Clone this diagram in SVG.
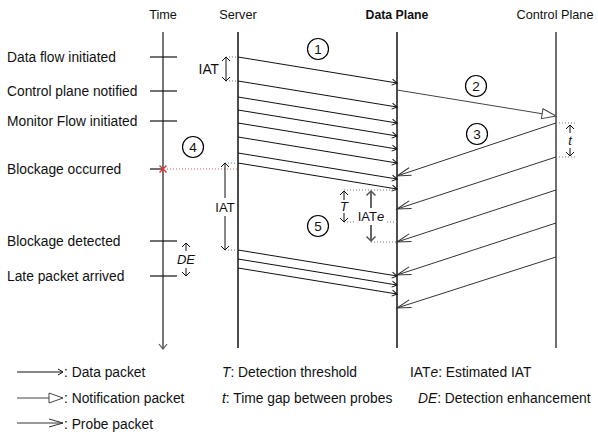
<svg xmlns="http://www.w3.org/2000/svg" width="598" height="437" viewBox="0 0 598 437">
<style>
text{font-family:"Liberation Sans",Arial,sans-serif;font-size:13.8px;fill:#111}
.h{font-size:12.7px}
.s{font-size:13px}
.n{font-size:13.5px}
.c{text-anchor:middle}
.e{text-anchor:end}
.i{font-style:italic}
.life{stroke:#000;stroke-width:1.4;fill:none}
.tick{stroke:#111;stroke-width:1.2}
.data{stroke:#111;stroke-width:1;fill:none;marker-end:url(#ad)}
.probe{stroke:#333;stroke-width:1;fill:none;marker-end:url(#ap)}
.dot{stroke:#777;stroke-width:1;stroke-dasharray:1 2;fill:none}
.circ{fill:#fff;stroke:#000;stroke-width:1.2}
.dim{stroke:#111;stroke-width:1;fill:none}
.ah{stroke:#111;stroke-width:1;fill:none}
</style>
<defs>
<marker id="ad" markerUnits="userSpaceOnUse" markerWidth="12" markerHeight="12" viewBox="-6 -6 12 12" refX="0" refY="0" orient="auto">
<path d="M-5,-3 L0,0 L-5,3" fill="none" stroke="#111" stroke-width="1"/>
</marker>
<marker id="ap" markerUnits="userSpaceOnUse" markerWidth="32" markerHeight="32" viewBox="-16 -16 32 32" refX="0" refY="0" orient="auto">
<path d="M-14,-4 L0,0 L-14,4" fill="none" stroke="#333" stroke-width="1"/>
</marker>
<marker id="an" markerUnits="userSpaceOnUse" markerWidth="32" markerHeight="32" viewBox="-16 -16 32 32" refX="0" refY="0" orient="auto">
<path d="M-14,-5 L0,0 L-14,5 Z" fill="#fff" stroke="#444" stroke-width="1"/>
</marker>
</defs>

<g id="headers">
<text class="c h" x="163" y="18.5">Time</text>
<text class="c h" x="238" y="18.5">Server</text>
<text class="c h" x="397" y="18.5" style="font-weight:bold;font-size:12.3px">Data Plane</text>
<text class="c h" x="555" y="18.5">Control Plane</text>
</g>

<g id="lifelines">
<line x1="163" y1="32" x2="163" y2="348" stroke="#555" stroke-width="1.6"/>
<path d="M159,344 L163,349 L167,344" fill="none" stroke="#555" stroke-width="1.2"/>
<line class="life" x1="238" y1="32" x2="238" y2="348"/>
<line class="life" x1="397" y1="32" x2="397" y2="348" stroke-width="1.8"/>
<line x1="556" y1="32" x2="556" y2="348" stroke="#333" stroke-width="1.4"/>
</g>

<g id="time-events">
<text x="7" y="62">Data flow initiated</text>
<line class="tick" x1="150" y1="57" x2="177" y2="57"/>
<text x="7" y="96">Control plane notified</text>
<line class="tick" x1="150" y1="91" x2="177" y2="91"/>
<text x="7" y="126">Monitor Flow initiated</text>
<line class="tick" x1="150" y1="121" x2="177" y2="121"/>
<text x="7" y="174">Blockage occurred</text>
<line class="tick" x1="150" y1="169" x2="163" y2="169"/>
<path d="M159.5,165.5 L166.5,172.5 M166.5,165.5 L159.5,172.5" stroke="#e53030" stroke-width="1.4"/>
<line x1="167" y1="169" x2="238" y2="169" stroke="#e06060" stroke-width="1" stroke-dasharray="1 2"/>
<text x="7" y="246">Blockage detected</text>
<line class="tick" x1="150" y1="241" x2="177" y2="241"/>
<text x="7" y="281">Late packet arrived</text>
<line class="tick" x1="150" y1="276" x2="177" y2="276"/>
</g>

<g id="connectors">
<line class="data" x1="238" y1="57" x2="397" y2="83"/>
<line class="data" x1="238" y1="81" x2="397" y2="107"/>
<line class="data" x1="238" y1="97" x2="397" y2="123"/>
<line class="data" x1="238" y1="110" x2="397" y2="136"/>
<line class="data" x1="238" y1="123" x2="397" y2="149"/>
<line class="data" x1="238" y1="137" x2="397" y2="163"/>
<line class="data" x1="238" y1="153" x2="397" y2="179"/>
<line class="data" x1="238" y1="163" x2="397" y2="189"/>
<line class="data" x1="238" y1="250" x2="397" y2="276"/>
<line class="data" x1="238" y1="259" x2="397" y2="285"/>
<line class="data" x1="238" y1="268" x2="397" y2="294"/>
<line x1="397" y1="90" x2="556" y2="116" stroke="#444" stroke-width="1" marker-end="url(#an)"/>
<line class="probe" x1="556" y1="123" x2="397" y2="176"/>
<line class="probe" x1="556" y1="157" x2="397" y2="209"/>
<line class="probe" x1="556" y1="190" x2="397" y2="242"/>
<line class="probe" x1="556" y1="223" x2="397" y2="275"/>
<line class="probe" x1="556" y1="257" x2="397" y2="308"/>
</g>

<g id="step-1"><circle class="circ" cx="318" cy="49" r="10.5"/><text class="c n" x="318" y="54">1</text></g>
<g id="step-2"><circle class="circ" cx="476" cy="86" r="10.5"/><text class="c n" x="476" y="91">2</text></g>
<g id="step-3"><circle class="circ" cx="477" cy="134" r="10.5"/><text class="c n" x="477" y="139">3</text></g>
<g id="step-4"><circle class="circ" cx="193" cy="147" r="10.5"/><text class="c n" x="193" y="152">4</text></g>
<g id="step-5"><circle class="circ" cx="318" cy="226" r="10.5"/><text class="c n" x="318" y="231">5</text></g>

<g id="iat-top">
<line class="dot" x1="226" y1="57" x2="238" y2="57"/>
<line class="dot" x1="226" y1="81" x2="238" y2="81"/>
<line class="dim" x1="226" y1="57" x2="226" y2="81"/>
<path class="ah" d="M222,61 L226,57 L230,61 M222,77 L226,81 L230,77"/>
<text class="e" x="219" y="74">IAT</text>
</g>

<g id="iat-big">
<line class="dot" x1="225" y1="163" x2="238" y2="163"/>
<line class="dot" x1="225" y1="250" x2="238" y2="250"/>
<line class="dim" x1="225" y1="163" x2="225" y2="198"/>
<line class="dim" x1="225" y1="216" x2="225" y2="250"/>
<path class="ah" d="M221,167 L225,163 L229,167 M221,246 L225,250 L229,246"/>
<text class="c s" x="225" y="211.5">IAT</text>
</g>

<g id="de">
<line class="dim" x1="186" y1="243" x2="186" y2="251"/>
<path class="ah" d="M182,247 L186,243 L190,247"/>
<text class="c i s" x="186" y="264">DE</text>
<line class="dim" x1="186" y1="268" x2="186" y2="276"/>
<path class="ah" d="M182,272 L186,276 L190,272"/>
</g>

<g id="t-gap">
<line class="dot" x1="556" y1="123" x2="576" y2="123"/>
<line class="dot" x1="556" y1="157" x2="576" y2="157"/>
<line class="dim" x1="570" y1="125" x2="570" y2="133"/>
<path class="ah" d="M566,129 L570,125 L574,129"/>
<text class="c i s" x="570" y="145">t</text>
<line class="dim" x1="570" y1="148" x2="570" y2="156"/>
<path class="ah" d="M566,152 L570,156 L574,152"/>
</g>

<g id="threshold">
<line class="dot" x1="344" y1="190" x2="397" y2="190"/>
<line class="dot" x1="344" y1="222" x2="355" y2="222"/>
<line class="dot" x1="387" y1="222" x2="397" y2="222"/>
<line class="dot" x1="371" y1="242" x2="397" y2="242"/>
<line class="dim" x1="344" y1="191" x2="344" y2="200"/>
<path class="ah" d="M340,195 L344,191 L348,195"/>
<text class="c i s" x="344" y="211">T</text>
<line class="dim" x1="344" y1="213" x2="344" y2="222"/>
<path class="ah" d="M340,218 L344,222 L348,218"/>
<line x1="371" y1="191" x2="371" y2="208" stroke="#555" stroke-width="1.8"/>
<line x1="371" y1="225" x2="371" y2="241" stroke="#555" stroke-width="1.8"/>
<path d="M366.5,195.5 L371,191 L375.5,195.5 M366.5,236.5 L371,241 L375.5,236.5" fill="none" stroke="#555" stroke-width="1.5"/>
<text class="c s" x="371" y="221">IAT<tspan class="i">e</tspan></text>
</g>

<g id="legend">
<line class="data" x1="17" y1="372" x2="63" y2="372"/>
<text x="64" y="377">: Data packet</text>
<line x1="17" y1="398" x2="63" y2="398" stroke="#444" stroke-width="1" marker-end="url(#an)"/>
<text x="64" y="403">: Notification packet</text>
<line class="probe" x1="17" y1="423" x2="63" y2="423"/>
<text x="64" y="429">: Probe packet</text>
<text x="222" y="377"><tspan class="i">T</tspan>: Detection threshold</text>
<text x="222" y="403"><tspan class="i">t</tspan>: Time gap between probes</text>
<text x="410" y="377">IAT<tspan class="i">e</tspan>: Estimated IAT</text>
<text x="418" y="403"><tspan class="i">DE</tspan>: Detection enhancement</text>
</g>
</svg>
